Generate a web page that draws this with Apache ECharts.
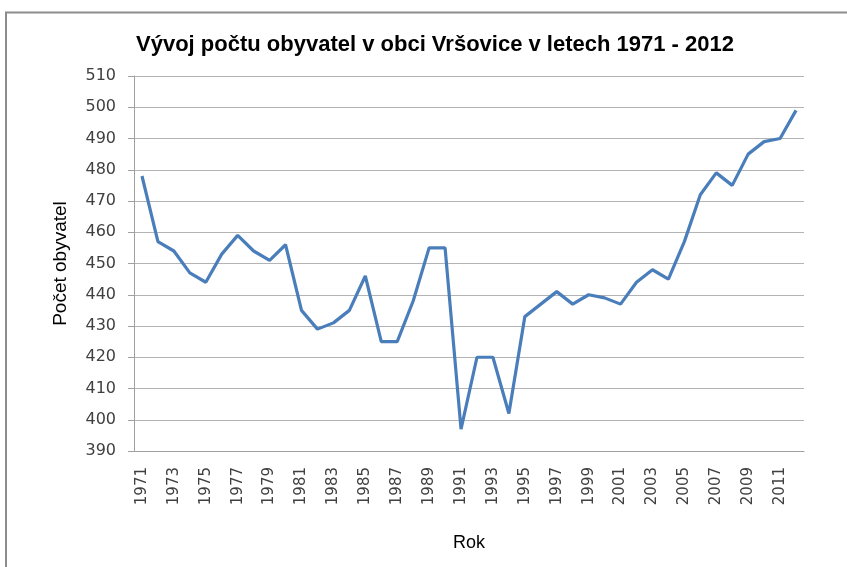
<!DOCTYPE html>
<html><head><meta charset="utf-8">
<script src="https://cdn.jsdelivr.net/npm/echarts@6/dist/echarts.min.js"></script>
<style>html,body{margin:0;padding:0;background:#fff}#c{width:847px;height:567px}</style>
</head><body><div id="c"></div>
<script>
const years = [];
for (let y = 1971; y <= 2012; y++) years.push(String(y));
const population = [478,457,454,447,444,453,459,454,451,456,435,429,431,435,446,425,425,438,455,455,397,420,420,402,433,437,441,437,440,439,437,444,448,445,457,472,479,475,485,489,490,499];
const yMin = 390, yMax = 510, yStep = 10;
const titleText = 'Vývoj počtu obyvatel v obci Vršovice v letech 1971 - 2012';
const xName = 'Rok', yName = 'Počet obyvatel';

const chart = echarts.init(document.getElementById('c'), null, {renderer: 'canvas'});
chart.setOption({
  animation: false,
  backgroundColor: '#fff',
  title: {
    text: titleText, left: 430, top: 29, textAlign: 'center',
    textStyle: {fontFamily: 'Liberation Sans', fontWeight: 'bold', fontSize: 22, color: '#000'}
  },
  graphic: [
    {type: 'line', shape: {x1: 5, y1: 12.5, x2: 847, y2: 12.5}, style: {stroke: '#8c8c8c', lineWidth: 2}},
    {type: 'line', shape: {x1: 6, y1: 12, x2: 6, y2: 567}, style: {stroke: '#8c8c8c', lineWidth: 2}}
  ],
  grid: {left: 134, top: 76, right: 43, bottom: 116},
  xAxis: {
    type: 'category', data: years, boundaryGap: true,
    name: xName, nameLocation: 'middle', nameGap: 83,
    nameTextStyle: {fontFamily: 'Liberation Sans', fontSize: 18, color: '#000'},
    axisLine: {lineStyle: {color: '#a0a0a0', width: 1}},
    axisTick: {show: false},
    axisLabel: {interval: 1, rotate: 90, margin: 16, fontFamily: 'DejaVu Sans', fontSize: 15, color: '#404040'}
  },
  yAxis: {
    type: 'value', min: yMin, max: yMax, interval: yStep,
    name: yName, nameLocation: 'middle', nameGap: 64,
    nameTextStyle: {fontFamily: 'Liberation Sans', fontSize: 19, color: '#000'},
    axisLine: {show: true, lineStyle: {color: '#a0a0a0', width: 1}},
    axisTick: {show: true, length: 6, lineStyle: {color: '#a0a0a0'}},
    axisLabel: {margin: 18, fontFamily: 'DejaVu Sans', fontSize: 16, color: '#404040'},
    splitLine: {lineStyle: {color: '#b4b4b4', width: 1}}
  },
  series: [{
    type: 'line', data: population, symbol: 'none',
    lineStyle: {color: '#4a7ebb', width: 3.2}
  }]
});
</script></body></html>
